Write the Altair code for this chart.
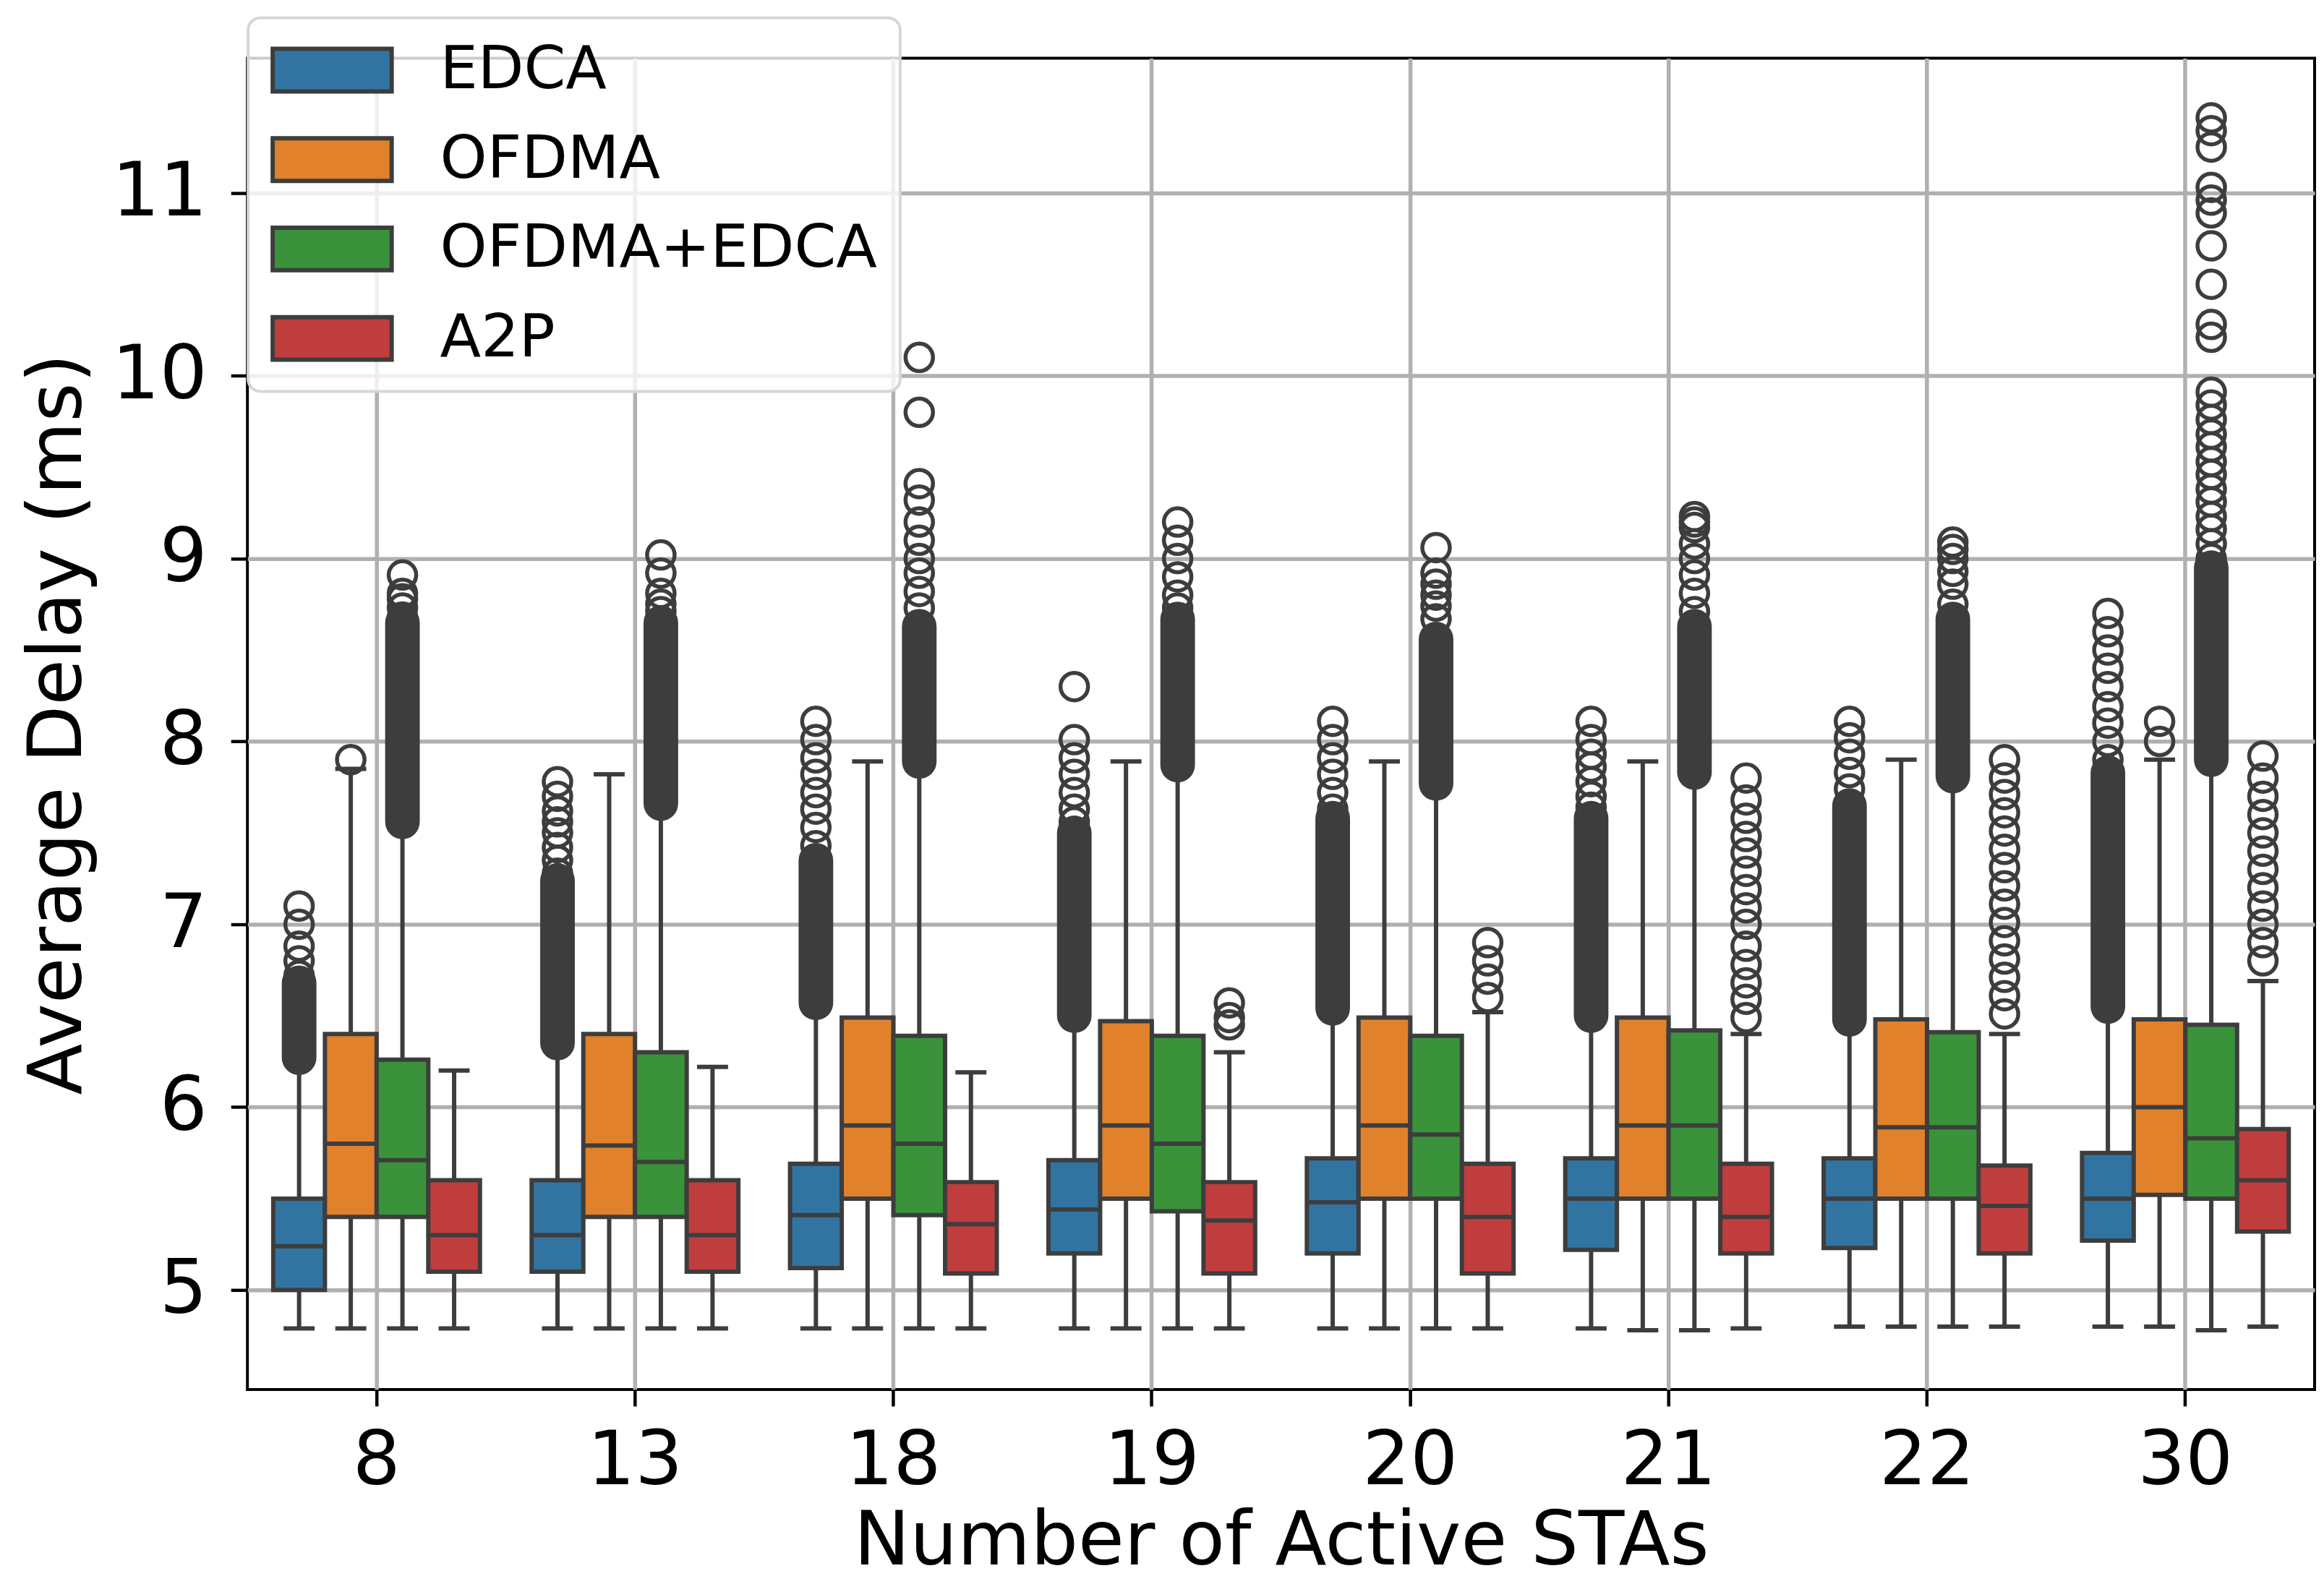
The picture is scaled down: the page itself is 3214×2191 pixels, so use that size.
import altair as alt
import pandas as pd

sta = ["8", "13", "18", "19", "20", "21", "22", "30"]
methods = ["EDCA", "OFDMA", "OFDMA+EDCA", "A2P"]
colors = ["#3274a1", "#e1812c", "#3a923a", "#c03d3e"]
y_ticks = [5, 6, 7, 8, 9, 10, 11]

# rows follow `methods`, columns follow `sta`
whisker_low = [
    [4.79, 4.79, 4.79, 4.79, 4.79, 4.79, 4.80, 4.80],
    [4.79, 4.79, 4.79, 4.79, 4.79, 4.78, 4.80, 4.80],
    [4.79, 4.79, 4.79, 4.79, 4.79, 4.78, 4.80, 4.78],
    [4.79, 4.79, 4.79, 4.79, 4.79, 4.79, 4.80, 4.80],
]
q1 = [
    [5.00, 5.10, 5.12, 5.20, 5.20, 5.22, 5.23, 5.27],
    [5.40, 5.40, 5.50, 5.50, 5.50, 5.50, 5.50, 5.52],
    [5.40, 5.40, 5.41, 5.43, 5.50, 5.50, 5.50, 5.50],
    [5.10, 5.10, 5.09, 5.09, 5.09, 5.20, 5.20, 5.32],
]
median = [
    [5.24, 5.30, 5.41, 5.44, 5.48, 5.50, 5.50, 5.50],
    [5.80, 5.79, 5.90, 5.90, 5.90, 5.90, 5.89, 6.00],
    [5.71, 5.70, 5.80, 5.80, 5.85, 5.90, 5.89, 5.83],
    [5.30, 5.30, 5.36, 5.38, 5.40, 5.40, 5.46, 5.60],
]
q3 = [
    [5.50, 5.60, 5.69, 5.71, 5.72, 5.72, 5.72, 5.75],
    [6.40, 6.40, 6.49, 6.47, 6.49, 6.49, 6.48, 6.48],
    [6.26, 6.30, 6.39, 6.39, 6.39, 6.42, 6.41, 6.45],
    [5.60, 5.60, 5.59, 5.59, 5.69, 5.69, 5.68, 5.88],
]
whisker_high = [
    [6.25, 6.33, 6.55, 6.48, 6.52, 6.48, 6.46, 6.53],
    [7.85, 7.82, 7.89, 7.89, 7.89, 7.89, 7.90, 7.90],
    [7.54, 7.64, 7.87, 7.85, 7.75, 7.81, 7.79, 7.88],
    [6.20, 6.22, 6.19, 6.30, 6.52, 6.40, 6.40, 6.69],
]
# packed outlier runs (drawn as a solid column of overlapping circles)
dense_low = [
    [6.27, 6.35, 6.57, 6.50, 6.54, 6.50, 6.48, 6.55],
    [None, None, None, None, None, None, None, None],
    [7.56, 7.66, 7.89, 7.87, 7.77, 7.83, 7.81, 7.90],
    [None, None, None, None, None, None, None, None],
]
dense_high = [
    [6.68, 7.24, 7.35, 7.50, 7.58, 7.58, 7.65, 7.83],
    [None, None, None, None, None, None, None, None],
    [8.65, 8.65, 8.63, 8.67, 8.56, 8.63, 8.67, 8.95],
    [None, None, None, None, None, None, None, None],
]
# individually visible outliers
edca_out = [
    [6.72, 6.80, 6.88, 7.00, 7.10],
    [7.28, 7.35, 7.42, 7.50, 7.56, 7.62, 7.70, 7.78],
    [7.43, 7.53, 7.63, 7.72, 7.82, 7.91, 8.01, 8.11],
    [7.56, 7.63, 7.72, 7.82, 7.91, 8.01, 8.30],
    [7.63, 7.72, 7.82, 7.91, 8.01, 8.11],
    [7.64, 7.70, 7.78, 7.86, 7.93, 8.01, 8.11],
    [7.74, 7.83, 7.93, 8.02, 8.11],
    [7.90, 8.00, 8.10, 8.19, 8.30, 8.40, 8.50, 8.60, 8.70],
]
ofdma_out = [[7.90], [], [], [], [], [], [], [8.00, 8.11]]
ofdma_edca_out = [
    [8.68, 8.73, 8.78, 8.81, 8.91],
    [8.71, 8.75, 8.81, 8.92, 9.02],
    [8.73, 8.82, 8.92, 9.00, 9.10, 9.20, 9.32, 9.41, 9.80, 10.10],
    [8.73, 8.80, 8.90, 9.00, 9.10, 9.20],
    [8.67, 8.74, 8.80, 8.86, 8.92, 9.06],
    [8.71, 8.81, 8.91, 9.00, 9.08, 9.17, 9.20, 9.23],
    [8.75, 8.86, 8.93, 9.00, 9.05, 9.09],
    [9.00, 9.08, 9.16, 9.23, 9.31, 9.38, 9.46, 9.53, 9.61, 9.68, 9.76, 9.84,
     9.91, 10.21, 10.28, 10.50, 10.71, 10.89, 10.96, 11.03, 11.25, 11.34, 11.41],
]
a2p_out = [
    [], [], [],
    [6.45, 6.49, 6.57],
    [6.60, 6.70, 6.80, 6.90],
    [6.49, 6.59, 6.68, 6.78, 6.88, 7.00, 7.09, 7.19, 7.29, 7.39, 7.48, 7.58, 7.68, 7.80],
    [6.51, 6.61, 6.71, 6.81, 6.91, 7.01, 7.11, 7.21, 7.31, 7.41, 7.51, 7.61, 7.71, 7.80, 7.90],
    [6.80, 6.90, 7.00, 7.10, 7.20, 7.30, 7.40, 7.50, 7.60, 7.70, 7.80, 7.92],
]
outliers = [edca_out, ofdma_out, ofdma_edca_out, a2p_out]

# ---------- tables ----------
stat_rows, out_rows, dense_rows = [], [], []
for i, m in enumerate(methods):
    for j, s in enumerate(sta):
        stat_rows.append(dict(sta=s, method=m, lo=whisker_low[i][j], q1=q1[i][j],
                              med=median[i][j], q3=q3[i][j], hi=whisker_high[i][j]))
        if dense_low[i][j] is not None:
            dense_rows.append(dict(sta=s, method=m, lo=dense_low[i][j], hi=dense_high[i][j]))
        for v in outliers[i][j]:
            out_rows.append(dict(sta=s, method=m, v=v))
stats = pd.DataFrame(stat_rows)
dense = pd.DataFrame(dense_rows)
outs = pd.DataFrame(out_rows)

FONT = "DejaVu Sans"
DARK = "#3d3d3d"
LW = 6
W, H = 2866, 1846

xscale = alt.Scale(domain=sta, paddingInner=0, paddingOuter=0)
oscale = alt.Scale(domain=methods, paddingInner=0, paddingOuter=0.5)
yscale = alt.Scale(domain=[4.456, 11.736], nice=False, zero=False)

xaxis = alt.Axis(title="Number of Active STAs", labelAngle=0, grid=True, gridColor="#b0b0b0",
                 gridWidth=5.5, domain=False, tickSize=23, tickWidth=4.5, tickColor="black",
                 labelFont=FONT, labelFontSize=104, labelColor="black", labelPadding=108,
                 labelBaseline="alphabetic", titleFont=FONT, titleFontSize=104,
                 titleFontWeight="normal", titleColor="black", titleX=1433, titleY=242,
                 titleBaseline="alphabetic", titleAlign="center", bandPosition=0.5)
yaxis = alt.Axis(title="Average Delay (ms)", values=y_ticks, format="d", grid=True,
                 gridColor="#b0b0b0", gridWidth=5.5, domain=False, tickSize=23, tickWidth=4.5,
                 tickColor="black", labelFont=FONT, labelFontSize=104, labelColor="black",
                 labelPadding=33, titleFont=FONT, titleFontSize=104, titleFontWeight="normal",
                 titleColor="black", titleX=-231, titleY=923, titleAngle=270,
                 titleBaseline="alphabetic", titleAlign="center")

X = alt.X("sta:N", sort=sta, scale=xscale, axis=xaxis)
XO = alt.XOffset("method:N", sort=methods, scale=oscale)


def Y(field):
    return alt.Y(field, type="quantitative", scale=yscale, axis=yaxis)


base = alt.Chart(stats)

whisk_lo = base.mark_rule(color=DARK, strokeWidth=LW).encode(x=X, xOffset=XO, y=Y("lo"), y2="q1")
whisk_hi = base.mark_rule(color=DARK, strokeWidth=LW).encode(x=X, xOffset=XO, y=Y("q3"), y2="hi")
cap_lo = base.mark_tick(color=DARK, thickness=LW, size=43, opacity=1).encode(x=X, xOffset=XO, y=Y("lo"))
cap_hi = base.mark_tick(color=DARK, thickness=LW, size=43, opacity=1).encode(x=X, xOffset=XO, y=Y("hi"))

legend = alt.Legend(title=None, orient="none", legendX=1, legendY=-56,
                    symbolType="M-1,-0.358L1,-0.358L1,0.358L-1,0.358Z", symbolSize=27225,
                    symbolStrokeWidth=LW, symbolStrokeColor=DARK, symbolOpacity=1,
                    labelFont=FONT, labelFontSize=83, labelColor="black", labelOffset=64,
                    labelLimit=2000, clipHeight=83, rowPadding=40, padding=31,
                    strokeColor="#d6d6d6", cornerRadius=17,
                    fillColor="rgba(255,255,255,0.8)")

box = base.mark_bar(stroke=DARK, strokeWidth=LW, opacity=1).encode(
    x=X, xOffset=XO, y=Y("q1"), y2="q3",
    color=alt.Color("method:N", sort=methods,
                    scale=alt.Scale(domain=methods, range=colors), legend=legend),
)
med = base.mark_tick(color=DARK, thickness=LW, size=71, opacity=1).encode(x=X, xOffset=XO, y=Y("med"))

dense_mark = alt.Chart(dense).mark_rule(color=DARK, strokeWidth=48, strokeCap="round").encode(
    x=X, xOffset=XO, y=Y("lo"), y2="hi")
pts = alt.Chart(outs).mark_point(shape="circle", filled=False, color=DARK, strokeWidth=5.5,
                                 size=1452, opacity=1).encode(x=X, xOffset=XO, y=Y("v"))

chart = alt.layer(whisk_lo, whisk_hi, cap_lo, cap_hi, box, med, dense_mark, pts).properties(
    width=W, height=H,
    autosize=alt.AutoSizeParams(type="none"),
    padding={"left": 335, "top": 70, "right": 5, "bottom": 280},
).configure_view(stroke="black", strokeWidth=4).configure_legend(strokeWidth=4)

chart.save("out.html", embed_options={"renderer": "svg", "actions": False})
